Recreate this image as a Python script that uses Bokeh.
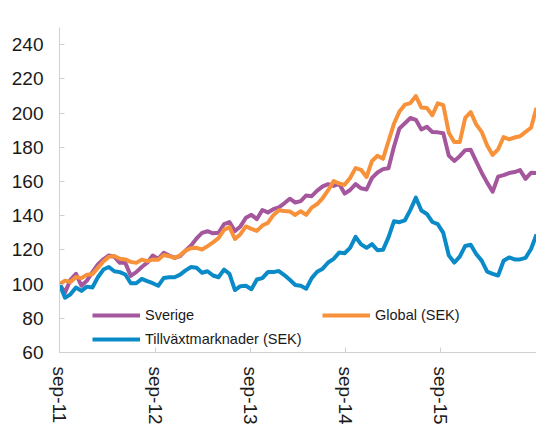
import pandas as pd
from bokeh.plotting import figure
from bokeh.models import (Range1d, FixedTicker, CustomJSTickFormatter, Legend, LegendItem,
                          ColumnDataSource)
from bokeh.embed import file_html
from bokeh.resources import INLINE

# ---- data (index, start = 100), sampled every 3 weeks from Sep 2011 ----
start_date = "2011-09-01"
n_points = 88
dates = pd.date_range(start_date, periods=n_points, freq="21D")

sverige = [100, 95, 102.5, 106, 99, 102, 107, 111.5, 114.5, 116.7,
           116, 112.4, 112.4, 104.8, 107, 110, 112.5, 116.7, 114.7, 118.3,
           116.7, 115.3, 116.4, 119.6, 122.6, 126.7, 129.9, 130.9, 129.7, 130,
           135, 136.2, 131, 133.7, 138.8, 140.5, 138, 143.3, 141.9, 143.8,
           144.9, 147.2, 149.9, 147.7, 148.5, 151.8, 151.4, 154.6, 157.1, 158.4,
           157.4, 158.6, 152.9, 155, 158.4, 156, 155.3, 162.1, 165.2, 167.2,
           167.7, 180.3, 191, 194, 197.1, 196, 190.4, 192, 188.9, 188.7,
           188.2, 175.1, 172, 174.8, 178.3, 178.5, 171.8, 165.1, 159.3, 154,
           162.8, 163.7, 164.9, 165.5, 166.6, 161.5, 165.1, 165]

global_sek = [100, 102, 101.2, 104.1, 103.5, 105.5, 105.8, 109.5, 113.2, 115.9,
              116.4, 114.8, 114.4, 113, 112.4, 114.3, 113.4, 114.3, 114.2, 117,
              116.3, 115.3, 116.8, 119.6, 121, 121.2, 120.2, 122.2, 124.4, 126.9,
              131.7, 133.3, 126.4, 129.2, 133.7, 132.3, 131.1, 134.2, 135.8, 140.3,
              143.2, 142.7, 142.5, 140.4, 142.6, 140.5, 144.7, 146.8, 150.3, 154.9,
              160.2, 158.8, 158, 162, 167.8, 166.8, 162.6, 172, 175, 173.2,
              183.5, 193.7, 200.9, 204.9, 205.8, 209.9, 203.2, 203, 198.7, 205.7,
              204.6, 188.5, 183, 183, 197.2, 200.6, 193.4, 189, 181, 175.5,
              178.8, 186, 184.6, 185.7, 186.4, 189, 191.4, 203]

tillvaxt = [100, 92, 94, 98, 96, 98.5, 98, 104, 108.5, 110,
            107.5, 107, 105.6, 100.5, 100.5, 103, 101.7, 100.5, 99, 103.5,
            104, 104, 105.5, 108, 110, 109.5, 106.6, 107.5, 105, 104,
            108.5, 106, 96.5, 98.8, 99, 97, 102.7, 103.5, 107, 107,
            107.6, 105.3, 102.5, 99.5, 99, 97.3, 103.5, 107.2, 109, 112.6,
            114.7, 118.4, 118, 121.2, 127.6, 123.2, 121.2, 123.4, 119.8, 120,
            127.3, 136.7, 136.2, 137.3, 143.4, 150.5, 143, 141, 136.3, 135,
            129.9, 116.8, 112.6, 116, 122.3, 123, 117.6, 113.7, 107.3, 106,
            105, 113.6, 115.6, 114.4, 114.4, 115.3, 120.5, 129]

series_names = ["Sverige", "Global (SEK)", "Tillväxtmarknader (SEK)"]
series_colors = ["#A4579C", "#F7923A", "#0A8BC7"]

y_ticks = [60, 80, 100, 120, 140, 160, 180, 200, 220, 240]
x_tick_dates = ["2011-09-01", "2012-09-01", "2013-09-01", "2014-09-01", "2015-09-01"]

# ---- figure ----
FONT = "Liberation Sans"
p = figure(output_backend="svg", toolbar_location=None,
           x_axis_type="datetime",
           frame_width=477, frame_height=325,
           min_border_left=59, min_border_top=27, min_border_right=0,
           min_border_bottom=10)
p.x_range = Range1d(pd.Timestamp("2011-09-01"), pd.Timestamp("2016-09-01"))
p.y_range = Range1d(60, 250)
p.outline_line_color = None
p.xgrid.visible = False
p.ygrid.visible = False
p.background_fill_color = "white"
p.border_fill_color = "white"

renderers = []
for vals, col in zip([sverige, global_sek, tillvaxt], series_colors):
    src = ColumnDataSource(dict(x=dates, y=vals))
    r = p.line("x", "y", source=src, line_color=col, line_width=4,
               line_join="round")
    renderers.append(r)

# axes
axis_color = "#D0D0D0"
for ax in (p.xaxis[0], p.yaxis[0]):
    ax.axis_line_color = axis_color
    ax.major_tick_line_color = axis_color
    ax.major_tick_in = 5
    ax.major_tick_out = 0
    ax.minor_tick_line_color = None
    ax.major_label_text_font = FONT
    ax.major_label_text_font_size = "19px"
    ax.major_label_text_color = "#1A1A1A"

p.yaxis.ticker = FixedTicker(ticks=y_ticks)
p.yaxis.major_label_standoff = 16

p.xaxis.ticker = FixedTicker(ticks=[pd.Timestamp(d).value / 1e6 for d in x_tick_dates])
p.xaxis.formatter = CustomJSTickFormatter(code="""
const d = new Date(tick);
const m = ['jan','feb','mar','apr','maj','jun','jul','aug','sep','okt','nov','dec'][d.getUTCMonth()];
return m + '-' + String(d.getUTCFullYear()).slice(2);
""")
p.xaxis.major_label_orientation = "vertical"
p.xaxis.major_label_standoff = 14

legend = Legend(items=[LegendItem(label=n, renderers=[r]) for n, r in zip(series_names, renderers)],
                location=(33, 1), ncols=2, orientation="horizontal",
                glyph_width=48, glyph_height=24, label_height=24, label_width=177,
                label_standoff=5, spacing=0, padding=0, margin=0,
                border_line_color=None, background_fill_alpha=0,
                label_text_font=FONT, label_text_font_size="14.5px",
                label_text_color="#1A1A1A")
p.add_layout(legend, "center")

open("out.html", "w").write(file_html(p, INLINE))
